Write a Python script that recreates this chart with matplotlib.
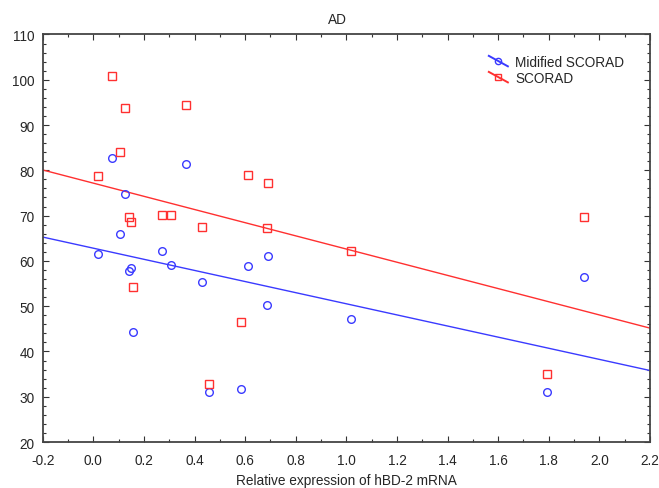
import numpy as np
import matplotlib
matplotlib.use("Agg")
import matplotlib.pyplot as plt
from matplotlib.legend_handler import HandlerLine2D
from matplotlib.lines import Line2D
from matplotlib.ticker import MultipleLocator

plt.rcParams['font.family'] = ['Liberation Sans', 'DejaVu Sans']

# relative expression of hBD-2 mRNA (same patients for both scores)
hbd2 = [0.075, 0.126, 0.368, 0.107, 0.020, 0.610, 0.690, 0.140, 0.149, 0.270,
        0.308, 0.430, 0.688, 1.020, 0.157, 0.583, 0.456, 1.792, 1.941]
scorad = [100.8, 93.8, 94.4, 84.0, 78.7, 78.9, 77.1, 69.8, 68.6, 70.2,
          70.2, 67.4, 67.3, 62.1, 54.3, 46.5, 32.9, 35.1, 69.6]
mod_scorad = [82.8, 74.8, 81.4, 66.0, 61.6, 58.9, 61.0, 57.7, 58.5, 62.2,
              59.1, 55.3, 50.2, 47.2, 44.3, 31.8, 31.1, 31.1, 56.4]

blue = '#3a3aff'
red = '#ff3030'
txt = '#262626'


class SlantHandler(HandlerLine2D):
    # legend sample drawn as a short diagonal line with the marker in the middle
    def create_artists(self, legend, orig_handle, xdescent, ydescent,
                       width, height, fontsize, trans):
        x0, x1 = width * 0.0, width * 1.0
        y0, y1 = height * 1.05, height * -0.05
        ln = Line2D([x0, x1], [y0, y1], color=orig_handle.get_color(), lw=1.4)
        mk = Line2D([(x0 + x1) / 2], [(y0 + y1) / 2], ls='none',
                    marker=orig_handle.get_marker(), ms=4.5,
                    mfc='none', mec=orig_handle.get_color(), mew=1.0)
        ln.set_transform(trans)
        mk.set_transform(trans)
        return [ln, mk]


fig = plt.figure(figsize=(6.59, 4.89), dpi=100)
ax = fig.add_axes([0.0648, 0.094, 0.9215, 0.8335])

x = np.array(hbd2)
xx = np.array([-0.2, 2.2])

b = np.polyfit(x, mod_scorad, 1)
r = np.polyfit(x, scorad, 1)

ax.plot(xx, np.polyval(b, xx), color=blue, lw=1.0, zorder=2)
ax.plot(xx, np.polyval(r, xx), color=red, lw=1.0, zorder=2)
ax.plot(x, mod_scorad, ls='none', marker='o', ms=5.5, mfc='none', mec=blue, mew=1.0, zorder=3)
ax.plot(x, scorad, ls='none', marker='s', ms=5.5, mfc='none', mec=red, mew=1.0, zorder=3)

h1 = Line2D([], [], color=blue, marker='o')
h2 = Line2D([], [], color=red, marker='s')
leg = ax.legend([h1, h2], ['Midified SCORAD', 'SCORAD'],
                handler_map={Line2D: SlantHandler()},
                loc='upper right', bbox_to_anchor=(0.978, 0.98), frameon=False,
                fontsize=9.8, handlelength=1.4, handletextpad=0.55,
                labelspacing=0.15)
for t in leg.get_texts():
    t.set_color(txt)

ax.set_xlim(-0.2, 2.2)
ax.set_ylim(20, 110)
ax.xaxis.set_major_locator(MultipleLocator(0.2))
ax.xaxis.set_minor_locator(MultipleLocator(0.1))
ax.yaxis.set_major_locator(MultipleLocator(10))
ax.yaxis.set_minor_locator(MultipleLocator(2))
ax.set_xticks(np.round(np.arange(-0.2, 2.21, 0.2), 1))
ax.set_xticklabels(['%.1f' % v for v in np.arange(-0.2, 2.21, 0.2)])

ax.tick_params(which='both', direction='in', top=True, right=True,
               labelsize=9.8, color='#333333', width=0.8, labelcolor=txt)
ax.tick_params(which='major', length=4)
ax.tick_params(which='minor', length=2.5)
ax.tick_params(axis='x', which='major', pad=8)
ax.tick_params(axis='y', which='major', pad=6)
for s in ax.spines.values():
    s.set_color('#444444')
    s.set_linewidth(1.3)

ax.set_xlabel('Relative expression of hBD-2 mRNA', fontsize=9.8, labelpad=4, color=txt)
ax.set_title('AD', fontsize=9.8, pad=8, color=txt, x=0.485)

fig.savefig('out.png', dpi=100)
